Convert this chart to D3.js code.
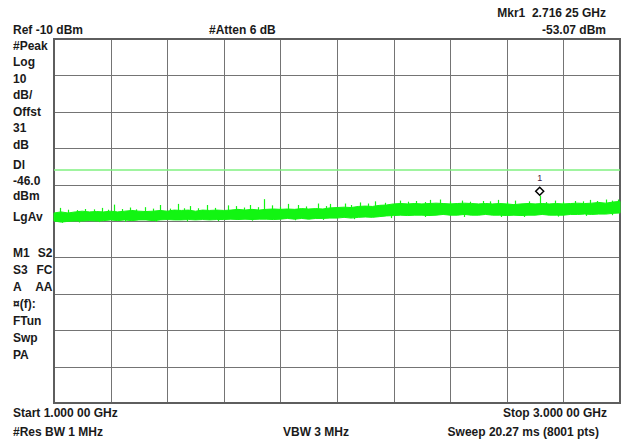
<!doctype html>
<html>
<head>
<meta charset="utf-8">
<title>Spectrum 1-3 GHz</title>
<style>
  body { margin: 0; background: #fff; }
  svg { display: block; }
  text { font-family: "Liberation Sans", Arial, sans-serif; font-weight: bold; fill: #1a1a1a; white-space: pre; }
  .grid line { stroke: #747474; stroke-width: 1; shape-rendering: crispEdges; }
  .grid path { display: none; }
</style>
<script src="https://d3js.org/d3.v7.min.js"></script>
</head>
<body>
<svg width="625" height="441"></svg>
<script>
// analyzer settings
var startGHz = 1.0, stopGHz = 3.0;
var refLevel = -10, dbPerDiv = 10, divs = 10;
var displayLine = -46.0;
var freqTicks = [1.0, 1.2, 1.4, 1.6, 1.8, 2.0, 2.2, 2.4, 2.6, 2.8, 3.0];

// trace envelope, one reading every 25 MHz (dBm)
var envStep = 0.025;
var traceTop = [
  -57.8, -57.5, -57.8, -57.5, -57.3, -57.5, -57.4, -57.5, -57.3, -57.5,
  -57.3, -57.1, -57.3, -57.4, -57.3, -57.1, -57.3, -57.0, -57.1, -57.0,
  -57.3, -57.0, -57.1, -57.0, -57.1, -57.0, -56.8, -57.0, -56.8, -57.0,
  -56.8, -56.7, -56.8, -56.7, -56.8, -56.6, -56.7, -56.6, -56.7, -56.4,
  -56.3, -56.2, -56.3, -56.0, -55.9, -56.0, -55.7, -55.6, -55.3, -55.2,
  -55.3, -55.2, -55.3, -55.2, -55.1, -55.2, -55.3, -55.2, -55.1, -55.2,
  -55.3, -55.2, -55.3, -55.2, -55.3, -55.5, -55.3, -55.2, -55.3, -55.2,
  -55.3, -55.2, -55.3, -55.2, -55.1, -55.2, -55.1, -54.9, -55.1, -54.8,
  -54.6
];
var traceBottom = [
  -60.0, -60.3, -60.1, -60.0, -60.0, -59.9, -60.0, -59.9, -59.7, -59.9,
  -59.7, -59.9, -59.7, -59.7, -59.9, -59.7, -59.6, -59.7, -59.7, -59.6,
  -59.7, -59.6, -59.7, -59.6, -59.6, -59.5, -59.6, -59.5, -59.6, -59.5,
  -59.5, -59.6, -59.5, -59.3, -59.5, -59.3, -59.5, -59.3, -59.3, -59.2,
  -59.2, -59.0, -59.2, -59.0, -58.9, -59.0, -58.8, -58.6, -58.5, -58.4,
  -58.5, -58.4, -58.4, -58.5, -58.4, -58.2, -58.4, -58.4, -58.2, -58.4,
  -58.4, -58.2, -58.4, -58.4, -58.5, -58.4, -58.5, -58.4, -58.4, -58.2,
  -58.4, -58.4, -58.4, -58.2, -58.2, -58.1, -58.2, -58.1, -58.1, -57.9,
  -57.8
];
// noise peaks standing above the band: [GHz, dBm]
var tracePeaks = [
  [1.021, -56.4], [1.050, -56.9], [1.080, -57.0], [1.110, -56.7], [1.140, -56.8],
  [1.170, -56.4], [1.190, -56.9], [1.212, -55.5], [1.240, -56.7], [1.268, -56.3],
  [1.290, -56.8], [1.322, -56.2], [1.350, -56.6], [1.375, -55.6], [1.410, -56.6],
  [1.438, -55.3], [1.460, -56.5], [1.480, -55.9], [1.510, -56.5], [1.540, -55.6],
  [1.570, -56.4], [1.615, -55.7], [1.643, -55.9], [1.670, -56.3], [1.693, -55.6],
  [1.720, -56.2], [1.742, -54.0], [1.770, -55.7], [1.800, -56.1], [1.827, -55.3],
  [1.862, -55.6], [1.890, -56.0], [1.933, -55.2], [1.960, -55.9], [1.975, -55.3],
  [2.028, -55.2], [2.050, -55.6], [2.081, -54.9], [2.110, -55.2], [2.134, -54.6],
  [2.170, -55.0], [2.223, -54.4], [2.250, -54.7], [2.280, -54.5], [2.310, -54.8],
  [2.330, -54.2], [2.364, -54.1], [2.400, -54.6], [2.442, -54.4], [2.470, -54.7],
  [2.516, -54.5], [2.540, -54.6], [2.569, -54.2], [2.600, -54.8], [2.629, -54.4],
  [2.680, -54.6], [2.716, -53.07], [2.740, -54.8], [2.770, -54.4], [2.800, -54.7],
  [2.840, -54.5], [2.870, -54.6], [2.894, -54.2], [2.920, -54.5], [2.951, -54.1],
  [2.970, -54.4], [2.993, -54.1]
];
// dips reaching under the band: [GHz, dBm]
var traceDips = [
  [1.030, -60.5], [1.090, -60.4], [1.160, -60.3], [1.250, -60.2], [1.360, -60.2],
  [1.470, -60.1], [1.580, -60.0], [1.700, -59.9], [1.850, -59.8], [1.950, -59.7],
  [2.060, -59.5], [2.190, -59.2], [2.310, -58.9], [2.450, -58.9], [2.580, -58.9],
  [2.660, -58.9], [2.780, -58.8], [2.880, -58.6], [2.970, -58.4]
];
var marker = { label: "1", freq: 2.71625, level: -53.07 };

var leftLabels1 = ["#Peak", "Log", "10", "dB/", "Offst", "31", "dB"];
var leftLabels2 = ["Dl", "-46.0", "dBm"];
var leftLabels3 = [["M1", "S2"], ["S3", "FC"], ["A", "AA"], ["\u00a4(f):", ""], ["FTun", ""], ["Swp", ""], ["PA", ""]];

var traceColor = "#12f512";

var svg = d3.select("svg");
var gLeft = 54, gRight = 620, gTop = 39, gBottom = 403;

var x = d3.scaleLinear().domain([startGHz, stopGHz]).range([gLeft, gRight]);
var y = d3.scaleLinear().domain([refLevel, refLevel - dbPerDiv * divs]).range([gTop, gBottom]);

// graticule
svg.append("g")
  .attr("class", "grid")
  .attr("transform", "translate(0," + gBottom + ")")
  .call(d3.axisBottom(x).tickValues(freqTicks).tickSize(-(gBottom - gTop)).tickFormat(""));
svg.append("g")
  .attr("class", "grid")
  .attr("transform", "translate(" + gLeft + ",0)")
  .call(d3.axisLeft(y).tickValues(d3.range(refLevel, refLevel - dbPerDiv * divs - 1, -dbPerDiv)).tickSize(-(gRight - gLeft)).tickFormat(""));

svg.append("rect")
  .attr("x", gLeft).attr("y", gTop)
  .attr("width", gRight - gLeft).attr("height", gBottom - gTop)
  .attr("fill", "none").attr("stroke", "#5e5e5e").attr("stroke-width", 2);

// display line
svg.append("line")
  .attr("x1", gLeft).attr("x2", gRight)
  .attr("y1", y(displayLine)).attr("y2", y(displayLine))
  .attr("stroke", "#80f080").attr("stroke-width", 1.6);

// trace
var env = traceTop.map(function(t, i) { return { f: startGHz + i * envStep, t: t, b: traceBottom[i] }; });
var area = d3.area()
  .x(function(d) { return x(d.f); })
  .y0(function(d) { return y(d.b); })
  .y1(function(d) { return y(d.t); });
svg.append("path")
  .datum(env)
  .attr("d", area)
  .attr("fill", traceColor)
  .attr("stroke", traceColor)
  .attr("stroke-width", 1);

function envIndex(f) { return Math.round((f - startGHz) / envStep); }

svg.selectAll(".peak")
  .data(tracePeaks)
  .enter().append("line")
  .attr("class", "peak")
  .attr("x1", function(d) { return Math.round(x(d[0])) + 0.5; })
  .attr("x2", function(d) { return Math.round(x(d[0])) + 0.5; })
  .attr("y1", function(d) { return y(d[1]); })
  .attr("y2", function(d) { return y(traceTop[envIndex(d[0])]) + 1; })
  .attr("stroke", traceColor)
  .attr("stroke-width", 1.2);

svg.selectAll(".dip")
  .data(traceDips)
  .enter().append("line")
  .attr("class", "dip")
  .attr("x1", function(d) { return Math.round(x(d[0])) + 0.5; })
  .attr("x2", function(d) { return Math.round(x(d[0])) + 0.5; })
  .attr("y1", function(d) { return y(d[1]); })
  .attr("y2", function(d) { return y(traceBottom[envIndex(d[0])]) - 1; })
  .attr("stroke", traceColor)
  .attr("stroke-width", 1.2);

// marker
var mx = x(marker.freq), my = y(marker.level) - 4.5;
svg.append("path")
  .attr("d", "M" + mx + "," + (my - 4) + "L" + (mx + 4) + "," + my + "L" + mx + "," + (my + 4) + "L" + (mx - 4) + "," + my + "Z")
  .attr("fill", "#fff").attr("stroke", "#000").attr("stroke-width", 1.5);
svg.append("text")
  .attr("x", mx).attr("y", my - 10)
  .attr("text-anchor", "middle")
  .style("font-size", "9px").style("font-weight", "normal").style("fill", "#3a2040")
  .text(marker.label);

// annotations
function label(tx, ty, s, anchor) {
  svg.append("text")
    .attr("x", tx).attr("y", ty)
    .attr("text-anchor", anchor || "start")
    .style("font-size", "12px")
    .text(s);
}
label(13, 34, "Ref -10 dBm");
label(209, 34, "#Atten 6 dB");
label(606, 17, "Mkr1  2.716 25 GHz", "end");
label(606, 34, "-53.07 dBm", "end");

leftLabels1.forEach(function(s, i) { label(13, 49.5 + i * 16.5, s); });
leftLabels2.forEach(function(s, i) { label(13, 169 + i * 15.5, s); });
label(13, 221, "LgAv");
leftLabels3.forEach(function(p, i) {
  label(13, 257 + i * 17, p[0]);
  if (p[1]) label(52.5, 257 + i * 17, p[1], "end");
});

label(13, 417, "Start 1.000 00 GHz");
label(607, 417, "Stop 3.000 00 GHz", "end");
label(13, 436, "#Res BW 1 MHz");
label(283, 436, "VBW 3 MHz");
label(599, 436, "Sweep 20.27 ms (8001 pts)", "end");
</script>
</body>
</html>
